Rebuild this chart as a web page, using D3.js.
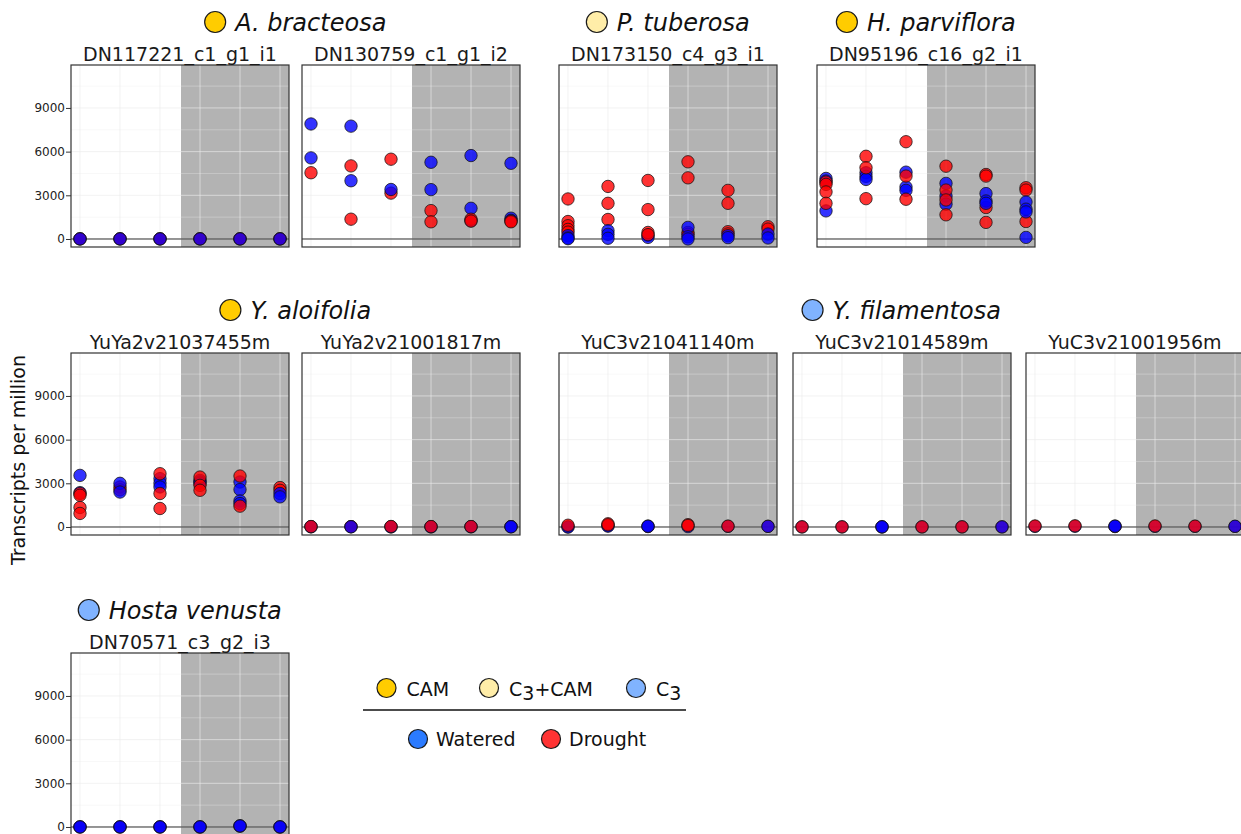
<!DOCTYPE html>
<html><head><meta charset="utf-8">
<script src="https://cdn.jsdelivr.net/npm/d3@7"></script>
<style>body{margin:0;background:#fff;} text{font-family:"DejaVu Sans",Verdana,sans-serif;}</style>
</head><body><svg id="c" width="1241" height="834"></svg>
<script>
// ---------- data ----------
const speciesNames = ["A. bracteosa","P. tuberosa","H. parviflora","Y. aloifolia","Y. filamentosa","Hosta venusta"];
const speciesTypes = ["CAM","C3+CAM","CAM","CAM","C3","C3"];
const geneIds = ["DN117221_c1_g1_i1","DN130759_c1_g1_i2","DN173150_c4_g3_i1","DN95196_c16_g2_i1",
  "YuYa2v21037455m","YuYa2v21001817m","YuC3v21041140m","YuC3v21014589m","YuC3v21001956m","DN70571_c3_g2_i3"];
const geneSpecies = [0,0,1,2,3,3,4,4,4,5];
const timepoints = [1,2,3,4,5,6];
const droughtStart = 3.525;
const yTicks = [0,3000,6000,9000];
const yMinorTicks = [1500,4500,7500,10500];
const typeLegend = ["CAM","C3+CAM","C3"];
const conditionLegend = ["Watered","Drought"];

// TPM per time point (replicates), watered and drought
const watered = [
  [[5],[5],[5],[5],[5],[5]],
  [[7900,5570],[7750,4000],[3400],[5270,3390],[5730,2110,1250],[5200,1430,1280]],
  [[230,70,20],[570,320,50],[250,110],[800,150,0],[230,90],[340,70]],
  [[4160,3980,1930],[4550,4300,4090],[4590,3570,3340],[3820,2950,2390],[3120,2610,2450],[2540,2050,1860,110]],
  [[3545,2360],[3000,2400],[3320,3020,2750],[3200,3090,3000],[3090,2570,1790,1610],[2300,2070]],
  [[20,15],[15],[10,10],[15,10],[20,15],[20,15]],
  [[0,5],[80,60],[60,50],[20],[40],[40]],
  [[5],[5],[10,10],[5],[5],[5]],
  [[40],[50],[60,55],[40],[40],[50]],
  [[5,5],[5,5],[5,5],[5,5],[80,70],[5,5]]
];
const drought = [
  [[10,10],[10,10],[10,10],[10,10],[10,10],[10,10]],
  [[4550],[5020,1360],[5480,3150],[1950,1180],[1360,1230],[1230,1180]],
  [[2750,1200,910,660,470],[3610,2450,1340],[4020,2020,450,300],[5300,4200,450,320],[3340,2450,500,350],[840,680]],
  [[3910,3750,3230,2450],[5680,4890,2770],[6680,4320,2730],[5000,3360,2680,1660],[4430,4320,2160,1140],[3520,3360,1200]],
  [[2300,2180,1340,930],[2750,2550],[3660,2300,1270],[3430,2860,2520],[3500,1430],[2710,2520]],
  [[30],[25,20],[35],[30],[30],[25]],
  [[120],[220,150],[30],[160,100],[60],[50]],
  [[10],[10],[5],[10],[10],[10]],
  [[70],[80],[30],[70],[60],[40]],
  [[5],[5],[5],[5],[60],[5]]
];
// which condition is plotted last (on top) at each time point
const frontLayer = ["WWWWWW","WWWWDD","WWDWWW","DDDDWW","DWDDDW","DWDDDW","DDWDDW","DDWDDW","DDWDDW","WWWWWW"];

// ---------- layout ----------
const svg = d3.select("#c");
svg.append("rect").attr("width",1241).attr("height",834).attr("fill","#fff");
const PW = 218, PH = 182;
const panelPos = [[71,65],[302,65],[559,65],[817,65],[71,353],[302,353],[559,353],[793,353],[1026,353],[71,653]];
const typeColor = {"CAM":"#FFCC00","C3+CAM":"#FFEDA8","C3":"#80B3FF"};
const condColor = {W:"#0000FF", D:"#FF0000"};

const x = d3.scaleLinear().domain([0.775,6.225]).range([0,PW]);
const y = d3.scaleLinear().domain([-550,11950]).range([PH,0]);

const defs = svg.append("defs");
defs.append("clipPath").attr("id","pclip").append("rect").attr("width",PW).attr("height",PH);

geneIds.forEach((gid,i)=>{
  const [px,py] = panelPos[i];
  const g = svg.append("g").attr("transform",`translate(${px},${py})`);
  const inner = g.append("g").attr("clip-path","url(#pclip)");
  inner.append("rect").attr("width",PW).attr("height",PH).attr("fill","#fff");
  inner.append("rect").attr("x",x(droughtStart)).attr("width",PW-x(droughtStart)).attr("height",PH).attr("fill","#B3B3B3");
  // grid
  inner.selectAll(".gmin").data(yMinorTicks).join("line")
    .attr("x1",0).attr("x2",PW).attr("y1",d=>y(d)).attr("y2",d=>y(d))
    .attr("stroke","#ebebeb").attr("stroke-opacity",0.35).attr("stroke-width",1);
  inner.selectAll(".gmaj").data(yTicks).join("line")
    .attr("x1",0).attr("x2",PW).attr("y1",d=>y(d)).attr("y2",d=>y(d))
    .attr("stroke","#ebebeb").attr("stroke-opacity",0.65).attr("stroke-width",1);
  inner.selectAll(".gv").data(timepoints).join("line")
    .attr("y1",0).attr("y2",PH).attr("x1",d=>x(d)).attr("x2",d=>x(d))
    .attr("stroke","#ebebeb").attr("stroke-opacity",0.65).attr("stroke-width",1);
  // zero line
  inner.append("line").attr("x1",0).attr("x2",PW).attr("y1",y(0)).attr("y2",y(0))
    .attr("stroke","#333").attr("stroke-width",1);
  // points
  const pts = [];
  timepoints.forEach((t,ti)=>{
    const front = frontLayer[i][ti];
    const order = front==="W" ? ["D","W"] : ["W","D"];
    order.forEach(c=>{
      const vals = (c==="W"?watered:drought)[i][ti];
      vals.forEach(v=>pts.push({t,v,c}));
    });
  });
  inner.selectAll("circle.pt").data(pts).join("circle")
    .attr("cx",d=>x(d.t)).attr("cy",d=>y(d.v)).attr("r",6.2)
    .attr("fill",d=>condColor[d.c]).attr("fill-opacity",0.8)
    .attr("stroke","#111").attr("stroke-opacity",0.75).attr("stroke-width",1);
  // border
  g.append("rect").attr("width",PW).attr("height",PH).attr("fill","none")
    .attr("stroke","#333").attr("stroke-width",1.2);
  // gene label
  g.append("text").attr("x",PW/2).attr("y",-4).attr("text-anchor","middle")
    .attr("font-size",19).attr("fill","#1a1a1a").text(gid);
  // y axis on leftmost panels
  if (px===71){
    const ax = d3.axisLeft(y).tickValues(yTicks).tickSize(5).tickPadding(1).tickFormat(d3.format("d"));
    const ag = g.append("g").call(ax);
    ag.select(".domain").remove();
    ag.selectAll(".tick line").attr("stroke","#333");
    ag.selectAll(".tick text").attr("font-size",12).attr("fill","#222")
      .attr("font-family","'DejaVu Sans',Verdana,sans-serif");
  }
});

// species titles
speciesNames.forEach((name,si)=>{
  const idx = geneSpecies.map((s,k)=>s===si?k:-1).filter(k=>k>=0);
  const left = d3.min(idx,k=>panelPos[k][0]);
  const right = d3.max(idx,k=>panelPos[k][0]+PW);
  const top = panelPos[idx[0]][1];
  const g = svg.append("g");
  const t = g.append("text").attr("font-size",24).attr("font-style","italic").attr("fill","#111")
    .attr("y",top-34).text(name);
  const tw = t.node().getComputedTextLength();
  const r = 10.5;
  const total = r + 20 + tw;
  const start = (left+right)/2 - total/2;
  g.append("circle").attr("cx",start+r).attr("cy",top-43).attr("r",r)
    .attr("fill",typeColor[speciesTypes[si]]).attr("stroke","#1a1a1a").attr("stroke-width",1.2);
  t.attr("x",start+r+20);
});

// y axis title
svg.append("text").attr("transform","translate(25,460) rotate(-90)").attr("text-anchor","middle")
  .attr("font-size",19).attr("fill","#111").text("Transcripts per million");

// legend
function labelWithSub(sel,label){
  const parts = label.split("3");
  if (parts.length===1){ sel.text(label); return; }
  sel.append("tspan").text(parts[0]);
  sel.append("tspan").attr("dy",4).text("3");
  if (parts[1]) sel.append("tspan").attr("dy",-4).text(parts[1]);
}
const legX1 = [386.5, 489, 636];
typeLegend.forEach((lab,k)=>{
  svg.append("circle").attr("cx",legX1[k]).attr("cy",688).attr("r",9.5)
    .attr("fill",typeColor[lab]).attr("stroke","#1a1a1a").attr("stroke-width",1.2);
  const t = svg.append("text").attr("x",legX1[k]+20).attr("y",696).attr("font-size",19).attr("fill","#111");
  labelWithSub(t,lab);
});
svg.append("line").attr("x1",363).attr("x2",686).attr("y1",710).attr("y2",710).attr("stroke","#111").attr("stroke-width",1.3);
const legX2 = [418, 551];
const legCol2 = ["#2B7BFF","#FF3333"];
conditionLegend.forEach((lab,k)=>{
  svg.append("circle").attr("cx",legX2[k]).attr("cy",739).attr("r",9.5)
    .attr("fill",legCol2[k]).attr("stroke","#1a1a1a").attr("stroke-width",1.2);
  svg.append("text").attr("x",legX2[k]+18).attr("y",746).attr("font-size",19).attr("fill","#111").text(lab);
});
</script>
</body></html>
